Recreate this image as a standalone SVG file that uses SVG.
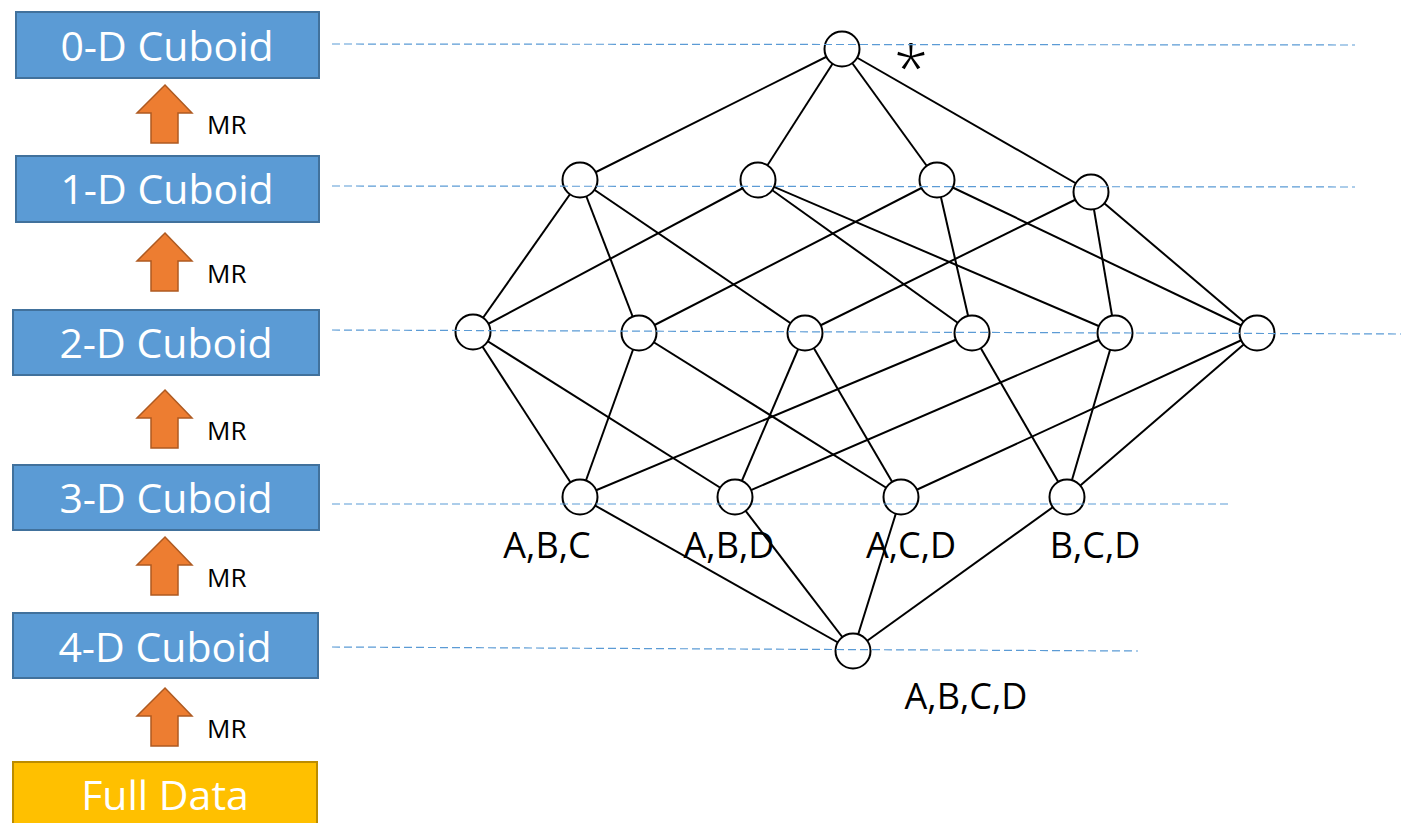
<svg xmlns="http://www.w3.org/2000/svg" width="1401" height="823" viewBox="0 0 1401 823">
  <style>
    .cub { fill: #5b9bd5; stroke: #41719c; stroke-width: 2; }
    .full { fill: #ffc000; stroke: #bc8c00; stroke-width: 2; }
    .cubtxt { font-family: "Open Sans", "Liberation Sans", sans-serif; font-size: 41px; fill: #ffffff; text-anchor: middle; }
    .mr { fill: #ed7d31; stroke: #ae5a21; stroke-width: 1.5; }
    .mrtxt { font-family: "Open Sans", "Liberation Sans", sans-serif; font-size: 26px; fill: #000000; }
    .edge { stroke: #000000; stroke-width: 2; fill: none; }
    .node { fill: #ffffff; stroke: #000000; stroke-width: 2; }
    .lbl { font-family: "Open Sans", "Liberation Sans", sans-serif; font-size: 36px; fill: #000000; text-anchor: middle; }
    .star { font-family: "Open Sans", "Liberation Sans", sans-serif; font-size: 62px; font-weight: 300; fill: #000000; text-anchor: middle; }
    .guide { stroke: #5b9bd5; stroke-width: 1.2; stroke-dasharray: 8 4; fill: none; }
  </style>
  <defs>
    <polygon id="uparrow" points="0,0 27,28 13,28 13,58 -14,58 -14,28 -28,28"/>
  </defs>

  <rect width="1401" height="823" fill="#ffffff"/>

  <!-- cuboid levels on the left -->
  <g id="level-0d">
    <rect class="cub" x="16" y="12" width="303" height="66"/>
    <text class="cubtxt" x="167" y="61">0-D Cuboid</text>
  </g>
  <g id="level-1d">
    <rect class="cub" x="16" y="156" width="303" height="66"/>
    <text class="cubtxt" x="167" y="204">1-D Cuboid</text>
  </g>
  <g id="level-2d">
    <rect class="cub" x="13" y="310" width="306" height="65"/>
    <text class="cubtxt" x="166" y="358">2-D Cuboid</text>
  </g>
  <g id="level-3d">
    <rect class="cub" x="13" y="465" width="306" height="65"/>
    <text class="cubtxt" x="166" y="513">3-D Cuboid</text>
  </g>
  <g id="level-4d">
    <rect class="cub" x="13" y="613" width="305" height="65"/>
    <text class="cubtxt" x="165" y="662">4-D Cuboid</text>
  </g>
  <g id="full-data">
    <rect class="full" x="13" y="762" width="304" height="70"/>
    <text class="cubtxt" x="165" y="810">Full Data</text>
  </g>

  <!-- MapReduce steps between levels -->
  <g id="mr-steps">
    <use href="#uparrow" class="mr" x="165" y="85"/>
    <text class="mrtxt" x="207" y="134">MR</text>
    <use href="#uparrow" class="mr" x="165" y="233"/>
    <text class="mrtxt" x="207" y="283">MR</text>
    <use href="#uparrow" class="mr" x="165" y="390"/>
    <text class="mrtxt" x="207" y="440">MR</text>
    <use href="#uparrow" class="mr" x="165" y="537"/>
    <text class="mrtxt" x="207" y="587">MR</text>
    <use href="#uparrow" class="mr" x="165" y="688"/>
    <text class="mrtxt" x="207" y="738">MR</text>
  </g>

  <!-- lattice edges -->
  <g id="connectors">
    <!-- apex to 1-D -->
    <line class="edge" x1="842" y1="49" x2="580" y2="180"/>
    <line class="edge" x1="842" y1="49" x2="758" y2="180"/>
    <line class="edge" x1="842" y1="49" x2="937" y2="180"/>
    <line class="edge" x1="842" y1="49" x2="1091" y2="192"/>
    <!-- 1-D to 2-D -->
    <line class="edge" x1="580" y1="180" x2="473" y2="332"/>
    <line class="edge" x1="580" y1="180" x2="639" y2="333"/>
    <line class="edge" x1="580" y1="180" x2="805" y2="333"/>
    <line class="edge" x1="758" y1="180" x2="473" y2="332"/>
    <line class="edge" x1="758" y1="180" x2="972" y2="333"/>
    <line class="edge" x1="758" y1="180" x2="1115" y2="333"/>
    <line class="edge" x1="937" y1="180" x2="639" y2="333"/>
    <line class="edge" x1="937" y1="180" x2="972" y2="333"/>
    <line class="edge" x1="937" y1="180" x2="1257" y2="333"/>
    <line class="edge" x1="1091" y1="192" x2="805" y2="333"/>
    <line class="edge" x1="1091" y1="192" x2="1115" y2="333"/>
    <line class="edge" x1="1091" y1="192" x2="1257" y2="333"/>
    <!-- 2-D to 3-D -->
    <line class="edge" x1="473" y1="332" x2="580" y2="497"/>
    <line class="edge" x1="639" y1="333" x2="580" y2="497"/>
    <line class="edge" x1="972" y1="333" x2="580" y2="497"/>
    <line class="edge" x1="473" y1="332" x2="735" y2="497"/>
    <line class="edge" x1="805" y1="333" x2="735" y2="497"/>
    <line class="edge" x1="1115" y1="333" x2="735" y2="497"/>
    <line class="edge" x1="639" y1="333" x2="901" y2="497"/>
    <line class="edge" x1="805" y1="333" x2="901" y2="497"/>
    <line class="edge" x1="1257" y1="333" x2="901" y2="497"/>
    <line class="edge" x1="972" y1="333" x2="1067" y2="497"/>
    <line class="edge" x1="1115" y1="333" x2="1067" y2="497"/>
    <line class="edge" x1="1257" y1="333" x2="1067" y2="497"/>
    <!-- 3-D to base -->
    <line class="edge" x1="580" y1="497" x2="853" y2="651"/>
    <line class="edge" x1="735" y1="497" x2="853" y2="651"/>
    <line class="edge" x1="901" y1="497" x2="853" y2="651"/>
    <line class="edge" x1="1067" y1="497" x2="853" y2="651"/>
  </g>

  <!-- lattice nodes -->
  <g id="node-all">
    <circle class="node" cx="842" cy="49" r="17.5"/>
    <text class="star" x="911" y="91">*</text>
  </g>
  <g id="node-a"><circle class="node" cx="580" cy="180" r="17.5"/></g>
  <g id="node-b"><circle class="node" cx="758" cy="180" r="17.5"/></g>
  <g id="node-c"><circle class="node" cx="937" cy="180" r="17.5"/></g>
  <g id="node-d"><circle class="node" cx="1091" cy="192" r="17.5"/></g>
  <g id="node-ab"><circle class="node" cx="473" cy="332" r="17.5"/></g>
  <g id="node-ac"><circle class="node" cx="639" cy="333" r="17.5"/></g>
  <g id="node-ad"><circle class="node" cx="805" cy="333" r="17.5"/></g>
  <g id="node-bc"><circle class="node" cx="972" cy="333" r="17.5"/></g>
  <g id="node-bd"><circle class="node" cx="1115" cy="333" r="17.5"/></g>
  <g id="node-cd"><circle class="node" cx="1257" cy="333" r="17.5"/></g>
  <g id="node-abc">
    <circle class="node" cx="580" cy="497" r="17.5"/>
    <text class="lbl" x="547" y="558">A,B,C</text>
  </g>
  <g id="node-abd">
    <circle class="node" cx="735" cy="497" r="17.5"/>
    <text class="lbl" x="729" y="558">A,B,D</text>
  </g>
  <g id="node-acd">
    <circle class="node" cx="901" cy="497" r="17.5"/>
    <text class="lbl" x="911" y="558">A,C,D</text>
  </g>
  <g id="node-bcd">
    <circle class="node" cx="1067" cy="497" r="17.5"/>
    <text class="lbl" x="1095" y="558">B,C,D</text>
  </g>
  <g id="node-abcd">
    <circle class="node" cx="853" cy="651" r="17.5"/>
    <text class="lbl" x="966" y="709">A,B,C,D</text>
  </g>

  <!-- dashed level guides -->
  <g id="guides">
    <line class="guide" x1="332" y1="44" x2="1355" y2="45"/>
    <line class="guide" x1="332" y1="186" x2="1355" y2="187"/>
    <line class="guide" x1="332" y1="330" x2="1401" y2="334"/>
    <line class="guide" x1="332" y1="504" x2="1232" y2="504"/>
    <line class="guide" x1="332" y1="647" x2="1138" y2="651"/>
  </g>
</svg>
